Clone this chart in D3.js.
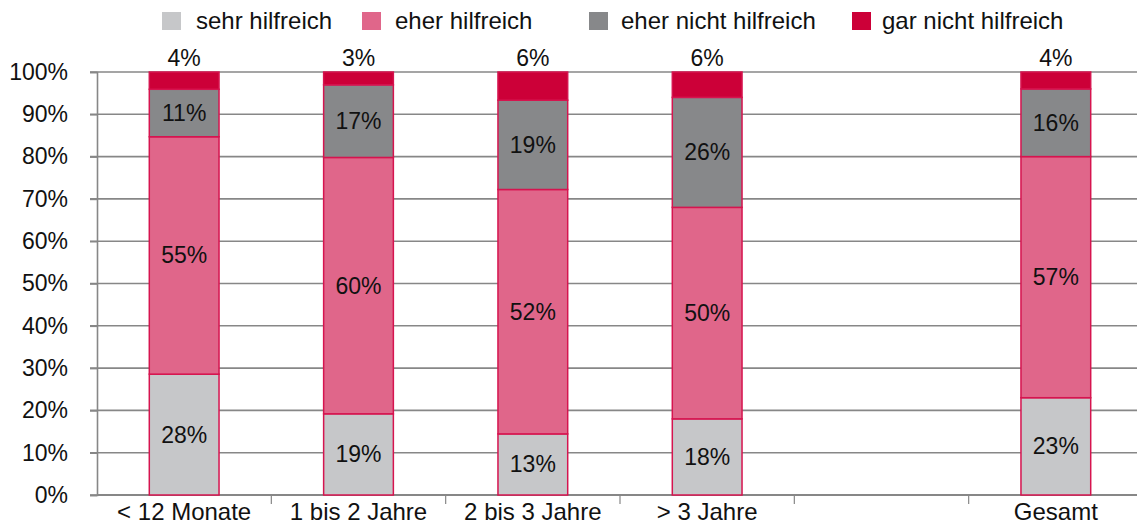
<!DOCTYPE html>
<html>
<head>
<meta charset="utf-8">
<script src="https://cdn.jsdelivr.net/npm/d3@7"></script>
<style>
  html, body { margin: 0; padding: 0; background: #fff; overflow: hidden; }
  svg { display: block; font-family: "Liberation Sans", Arial, sans-serif; }
</style>
</head>
<body>
<svg id="chart" width="1137" height="524"></svg>
<script>
// Kategorien (leere Spalte als Abstand vor "Gesamt")
const categories = ["< 12 Monate", "1 bis 2 Jahre", "2 bis 3 Jahre", "> 3 Jahre", "", "Gesamt"];
const seriesNames = ["sehr hilfreich", "eher hilfreich", "eher nicht hilfreich", "gar nicht hilfreich"];
const seriesColors = ["#c6c7c9", "#e0668a", "#87888a", "#cc0038"];

// Anteile in Prozent je Kategorie (null = keine Säule)
const sehrHilfreich      = [28, 19, 13, 18, null, 23];
const eherHilfreich      = [55, 60, 52, 50, null, 57];
const eherNichtHilfreich = [11, 17, 19, 26, null, 16];
const garNichtHilfreich  = [4, 3, 6, 6, null, 4];

const yTicks = [0, 0.1, 0.2, 0.3, 0.4, 0.5, 0.6, 0.7, 0.8, 0.9, 1.0];

const svg = d3.select("#chart");
const W = 1137, H = 524;
const margin = { left: 97, top: 72, bottom: 29 };
const plotRight = 1143; // Zeichenfläche reicht leicht über den rechten Rand
const plotBottom = H - margin.bottom;

const x = d3.scaleBand().domain(d3.range(categories.length))
  .range([margin.left, plotRight]).paddingInner(0.6).paddingOuter(0.3);
const y = d3.scaleLinear().domain([0, 1]).range([plotBottom, margin.top]);

const gridColor = "#878787";
const fontSize = 23;

// horizontale Gitterlinien
svg.append("g").selectAll("line").data(yTicks).join("line")
  .attr("x1", margin.left - 7).attr("x2", W)
  .attr("y1", d => y(d)).attr("y2", d => y(d))
  .attr("stroke", gridColor).attr("stroke-width", 1.6);

// y-Achse
const yAxis = svg.append("g").attr("transform", `translate(${margin.left},0)`)
  .call(d3.axisLeft(y).tickValues(yTicks).tickFormat(d3.format(".0%")).tickSize(7).tickPadding(22));
yAxis.select(".domain").attr("stroke", gridColor).attr("stroke-width", 1.6);
yAxis.selectAll(".tick line").attr("stroke", gridColor).attr("stroke-width", 1.6);
yAxis.selectAll(".tick text").attr("font-size", fontSize).attr("fill", "#111")
  .attr("font-family", "Liberation Sans, Arial, sans-serif");

// x-Achse mit Teilstrichen an den Kategoriegrenzen
const xAxisG = svg.append("g");
xAxisG.append("line").attr("x1", margin.left).attr("x2", W)
  .attr("y1", plotBottom).attr("y2", plotBottom)
  .attr("stroke", gridColor).attr("stroke-width", 1.8);
const bounds = d3.range(1, categories.length).map(i => margin.left + i * x.step());
xAxisG.selectAll("line.tk").data(bounds).join("line").attr("class", "tk")
  .attr("x1", d => d).attr("x2", d => d)
  .attr("y1", plotBottom).attr("y2", plotBottom + 9)
  .attr("stroke", gridColor).attr("stroke-width", 1.2);
xAxisG.selectAll("text").data(categories).join("text")
  .attr("x", (d, i) => x(i) + x.bandwidth() / 2)
  .attr("y", plotBottom + 25)
  .attr("text-anchor", "middle").attr("font-size", 24).attr("fill", "#111")
  .text(d => d);

// gestapelte 100%-Säulen
const rows = categories.map((c, i) => ({
  idx: i,
  values: [sehrHilfreich[i], eherHilfreich[i], eherNichtHilfreich[i], garNichtHilfreich[i]]
})).filter(r => r.values.every(v => v != null));

const segments = [];
rows.forEach(r => {
  const total = d3.sum(r.values);
  let acc = 0;
  r.values.forEach((v, s) => {
    segments.push({ idx: r.idx, s, v, y0: acc / total, y1: (acc + v) / total });
    acc += v;
  });
});

svg.append("g").selectAll("rect").data(segments).join("rect")
  .attr("x", d => x(d.idx))
  .attr("width", x.bandwidth())
  .attr("y", d => y(d.y1))
  .attr("height", d => y(d.y0) - y(d.y1))
  .attr("fill", d => seriesColors[d.s])
  .attr("stroke", "#d6144f").attr("stroke-width", 1.5);

// Beschriftungen: innen mittig, oberstes Segment über der Säule
svg.append("g").selectAll("text").data(segments).join("text")
  .attr("x", d => x(d.idx) + x.bandwidth() / 2)
  .attr("y", d => d.s === 3 ? y(1) - 6 : (y(d.y0) + y(d.y1)) / 2 + 8)
  .attr("text-anchor", "middle").attr("font-size", fontSize).attr("fill", "#111")
  .text(d => d.v + "%");

// Legende
const legendX = [162, 362, 589, 852];
const legendTextX = [196, 395, 621, 882];
const lg = svg.append("g").selectAll("g").data(seriesNames).join("g")
  .attr("transform", (d, i) => `translate(${legendX[i]},12)`);
lg.append("rect").attr("width", 19).attr("height", 18).attr("fill", (d, i) => seriesColors[i]);
lg.append("text")
  .attr("x", (d, i) => legendTextX[i] - legendX[i]).attr("y", 17)
  .attr("font-size", 24).attr("fill", "#111")
  .text(d => d);
</script>
</body>
</html>
